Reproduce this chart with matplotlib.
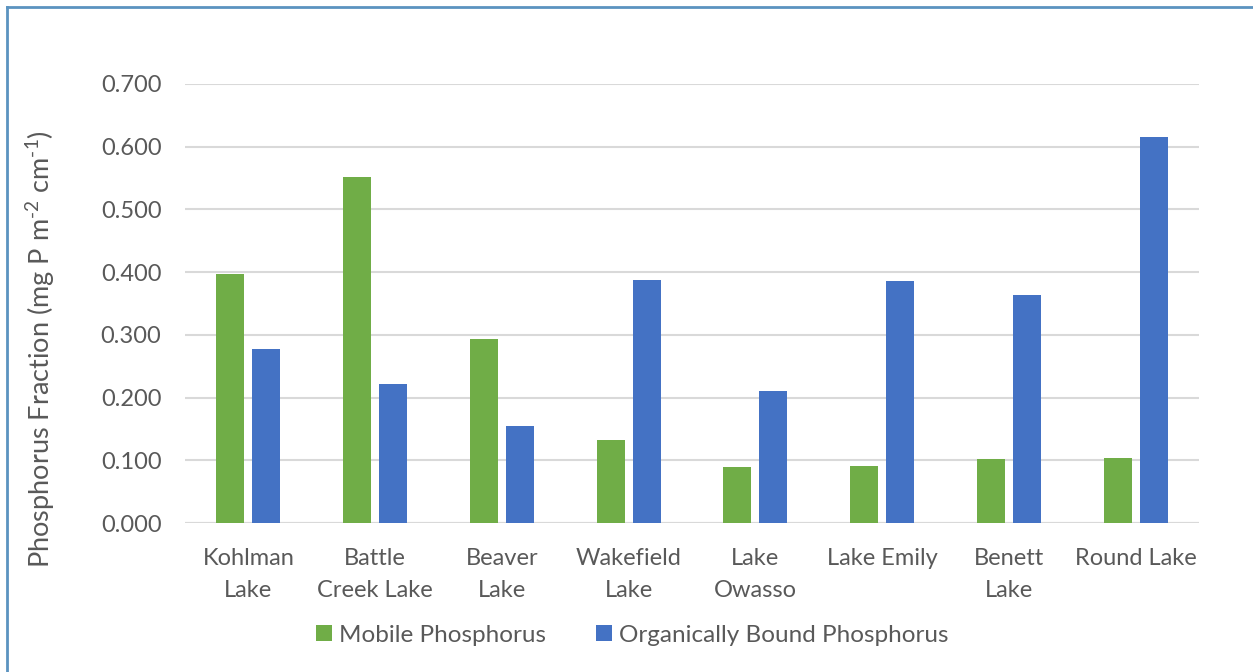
import numpy as np
import matplotlib.pyplot as plt
from matplotlib.lines import Line2D

# lake sediment phosphorus fractions
lakes = ["Kohlman\nLake", "Battle\nCreek Lake", "Beaver\nLake", "Wakefield\nLake",
         "Lake\nOwasso", "Lake Emily", "Benett\nLake", "Round Lake"]
mobile_p = [0.397, 0.552, 0.293, 0.132, 0.089, 0.091, 0.102, 0.103]
organic_p = [0.278, 0.221, 0.155, 0.388, 0.210, 0.386, 0.364, 0.615]
yticks = [0.0, 0.1, 0.2, 0.3, 0.4, 0.5, 0.6, 0.7]

green = "#70AD47"
blue = "#4472C4"
text_col = "#595959"

plt.rcParams['font.family'] = ['Lato', 'DejaVu Sans']
plt.rcParams['mathtext.fontset'] = 'custom'
plt.rcParams['mathtext.rm'] = 'Lato'

fig = plt.figure(figsize=(12.53, 6.72), dpi=100)
ax = fig.add_axes([185/1253, 1 - 523/672, (1199-185)/1253, (523-84)/672])

x = np.arange(len(lakes))
w = 0.221
off = 0.142
ax.bar(x - off, mobile_p, w, color=green, label="Mobile Phosphorus", zorder=3)
ax.bar(x + off, organic_p, w, color=blue, label="Organically Bound Phosphorus", zorder=3)

ax.set_xlim(-0.5, len(lakes) - 0.5)
ax.set_ylim(0, 0.7)
ax.set_yticks(yticks)
ax.set_yticklabels([f"{v:.3f}" for v in yticks])
ax.set_xticks(x)
ax.set_xticklabels(lakes, linespacing=1.65)
ax.yaxis.grid(True, color="#D9D9D9", linewidth=1.5, zorder=0)
ax.tick_params(axis='both', length=0, labelsize=17, labelcolor=text_col)
ax.tick_params(axis='y', pad=17)
ax.tick_params(axis='x', pad=18)
for s in ax.spines.values():
    s.set_visible(False)
ax.axhline(0, color="#D9D9D9", linewidth=1.5, zorder=2)

ax.set_ylabel(r"Phosphorus Fraction (mg P m$^{\text{-2}}$ cm$^{\text{-1}}$)", fontsize=19.5,
              color=text_col)
ax.yaxis.set_label_coords(57/1253, 1 - 349/672, transform=fig.transFigure)

fig.legend(loc="center", bbox_to_anchor=(0.5 + 6/1253, 1 - 635/672), ncol=2, frameon=False,
           fontsize=17.5, labelcolor=text_col, handlelength=0.65, handleheight=0.65,
           handletextpad=0.3, columnspacing=2.05)

# chart frame on the top and left edges
fig.add_artist(Line2D([6.5/1253, 6.5/1253], [0, 1 - 6.5/672], color="#5B93C0", linewidth=2))
fig.add_artist(Line2D([6.5/1253, 1], [1 - 6.5/672, 1 - 6.5/672], color="#5B93C0", linewidth=2))

fig.savefig("out.png", dpi=100)
